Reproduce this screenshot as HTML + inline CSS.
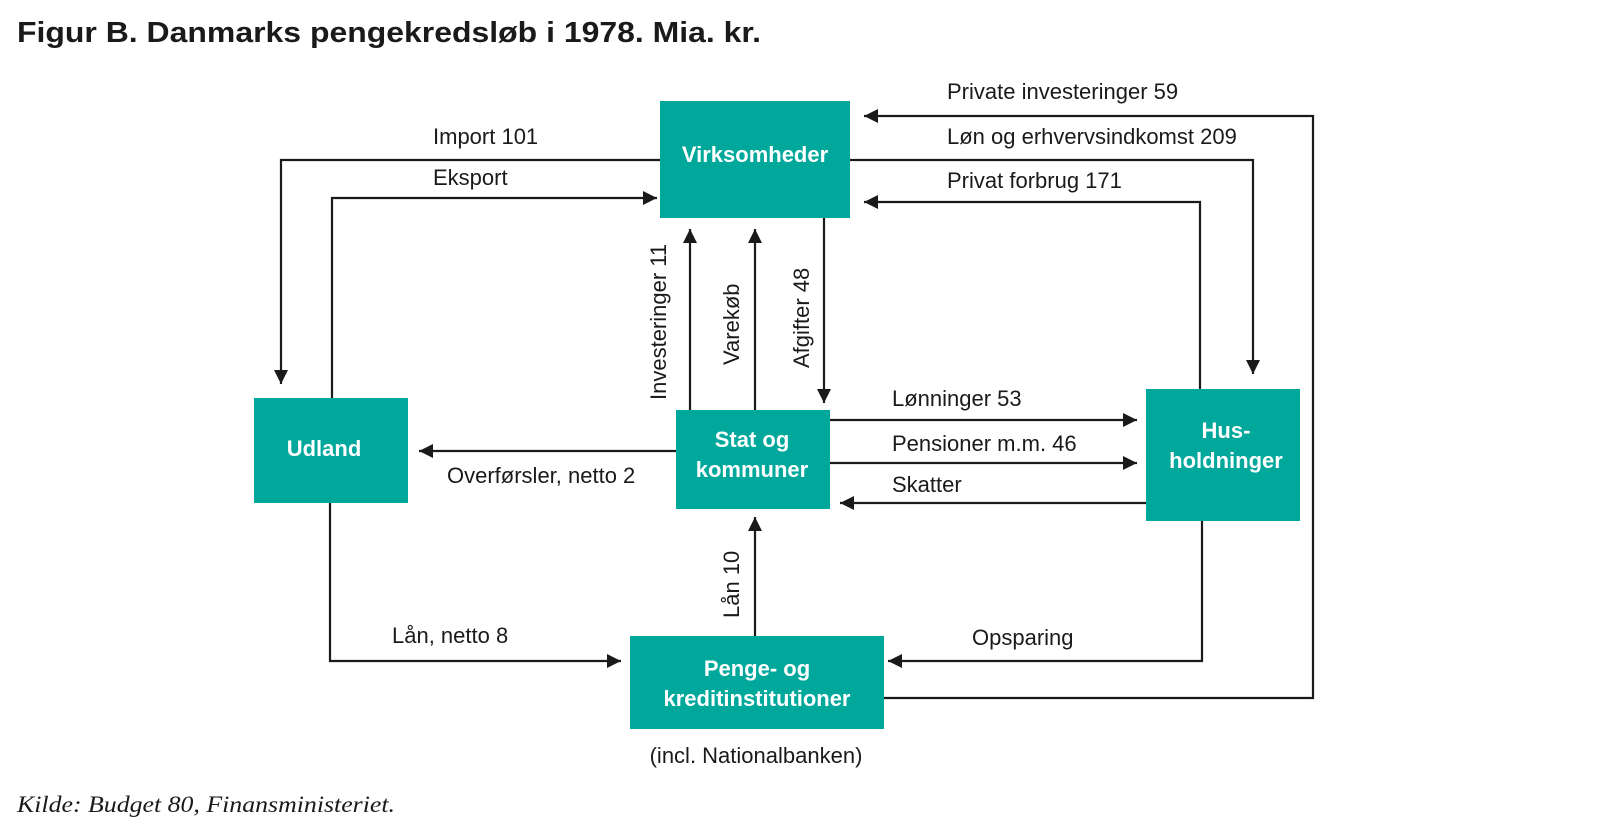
<!DOCTYPE html>
<html><head><meta charset="utf-8"><style>
html,body{margin:0;padding:0;background:#fff;}
svg{display:block;}
text{font-family:"Liberation Sans",sans-serif;fill:#1a1a1a;}
.l{font-size:22px;}
.b{font-size:22px;font-weight:bold;fill:#fff;}
</style></head><body>
<svg width="1600" height="833" viewBox="0 0 1600 833" xmlns="http://www.w3.org/2000/svg">
<defs><marker id="a" viewBox="0 0 10 10" refX="10" refY="5" markerWidth="22" markerHeight="14" markerUnits="userSpaceOnUse" orient="auto"><path d="M0,0 L10,5 L0,10 z" fill="#1a1a1a"/></marker></defs>
<text x="17" y="42" style="font-size:29px;font-weight:bold" textLength="744" lengthAdjust="spacingAndGlyphs">Figur B. Danmarks pengekredsløb i 1978. Mia. kr.</text>
<g stroke="#1a1a1a" stroke-width="2.2" fill="none">
<polyline points="660,160 281,160 281,384" marker-end="url(#a)"/>
<polyline points="332,398 332,198 657,198" marker-end="url(#a)"/>
<polyline points="883,698 1313,698 1313,116 864,116" marker-end="url(#a)"/>
<polyline points="850,160 1253,160 1253,374" marker-end="url(#a)"/>
<polyline points="1200,389 1200,202 864,202" marker-end="url(#a)"/>
<line x1="690" y1="410" x2="690" y2="229" marker-end="url(#a)"/>
<line x1="755" y1="410" x2="755" y2="229" marker-end="url(#a)"/>
<line x1="824" y1="218" x2="824" y2="403" marker-end="url(#a)"/>
<line x1="830" y1="420" x2="1137" y2="420" marker-end="url(#a)"/>
<line x1="830" y1="463" x2="1137" y2="463" marker-end="url(#a)"/>
<line x1="1146" y1="503" x2="840" y2="503" marker-end="url(#a)"/>
<line x1="676" y1="451" x2="419" y2="451" marker-end="url(#a)"/>
<polyline points="330,503 330,661 621,661" marker-end="url(#a)"/>
<polyline points="1202,521 1202,661 888,661" marker-end="url(#a)"/>
<line x1="755" y1="636" x2="755" y2="517" marker-end="url(#a)"/>
</g>
<g fill="#00a89c">
<rect x="660" y="101" width="190" height="117"/>
<rect x="254" y="398" width="154" height="105"/>
<rect x="676" y="410" width="154" height="99"/>
<rect x="1146" y="389" width="154" height="132"/>
<rect x="630" y="636" width="254" height="93"/>
</g>
<g text-anchor="middle">
<text class="b" x="755" y="162">Virksomheder</text>
<text class="b" x="324" y="456">Udland</text>
<text class="b" x="752" y="447">Stat og</text>
<text class="b" x="752" y="477">kommuner</text>
<text class="b" x="1226" y="438">Hus-</text>
<text class="b" x="1226" y="468">holdninger</text>
<text class="b" x="757" y="676">Penge- og</text>
<text class="b" x="757" y="706">kreditinstitutioner</text>
<text class="l" x="756" y="763">(incl. Nationalbanken)</text>
</g>
<text class="l" x="433" y="144">Import 101</text>
<text class="l" x="433" y="185">Eksport</text>
<text class="l" x="947" y="99">Private investeringer 59</text>
<text class="l" x="947" y="144">Løn og erhvervsindkomst 209</text>
<text class="l" x="947" y="188">Privat forbrug 171</text>
<text class="l" x="892" y="406">Lønninger 53</text>
<text class="l" x="892" y="451">Pensioner m.m. 46</text>
<text class="l" x="892" y="492">Skatter</text>
<text class="l" x="447" y="483">Overførsler, netto 2</text>
<text class="l" x="392" y="643">Lån, netto 8</text>
<text class="l" x="972" y="645">Opsparing</text>
<text class="l" transform="translate(666,400) rotate(-90)">Investeringer 11</text>
<text class="l" transform="translate(739,365) rotate(-90)">Varekøb</text>
<text class="l" transform="translate(809,368) rotate(-90)">Afgifter 48</text>
<text class="l" transform="translate(739,618) rotate(-90)">Lån 10</text>
<text x="17" y="812" style="font-family:'Liberation Serif',serif;font-style:italic;font-size:23px" textLength="378" lengthAdjust="spacingAndGlyphs">Kilde: Budget 80, Finansministeriet.</text>
</svg>
</body></html>
